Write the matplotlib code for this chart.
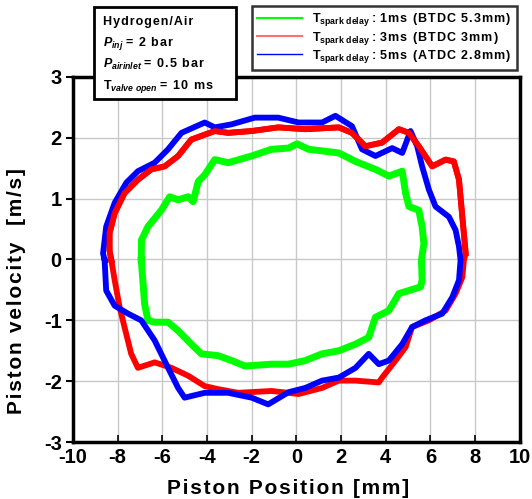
import matplotlib
matplotlib.use("Agg")
import matplotlib.pyplot as plt
from matplotlib.lines import Line2D
from matplotlib.patches import Rectangle

plt.rcParams["font.family"] = ["Liberation Sans", "DejaVu Sans"]
plt.rcParams["font.weight"] = "bold"
plt.rcParams["axes.unicode_minus"] = False
plt.rcParams["mathtext.fontset"] = "custom"
plt.rcParams["mathtext.rm"] = "Liberation Sans:bold"
plt.rcParams["mathtext.it"] = "Liberation Sans:italic:bold"
plt.rcParams["mathtext.bf"] = "Liberation Sans:bold"

# traced loops (piston position [mm], piston velocity [m/s])
green_x = [-6.94, -6.93, -6.64, -6.04, -5.67, -5.29, -4.84, -4.62, -4.39, -4.10, -3.65,
           -3.05, -2.00, -1.11, -0.35, 0.03, 0.55, 1.90, 2.65, 3.54, 4.14, 4.74, 4.89,
           5.04, 5.48, 5.63, 5.71, 5.60, 5.63, 5.56, 5.04, 4.59, 4.14, 3.54, 3.24, 2.65,
           1.90, 1.15, 0.40, -0.35, -1.11, -2.30, -2.90, -3.50, -4.25, -4.70, -5.29,
           -5.74, -6.34, -6.64, -6.79, -6.87, -6.94]
green_y = [-0.01, 0.32, 0.54, 0.81, 1.03, 0.98, 1.03, 0.95, 1.28, 1.39, 1.64,
           1.59, 1.70, 1.81, 1.83, 1.90, 1.81, 1.75, 1.61, 1.48, 1.37, 1.45, 1.09,
           0.87, 0.81, 0.54, 0.26, -0.01, -0.34, -0.45, -0.51, -0.56, -0.84, -0.95, -1.28, -1.39,
           -1.50, -1.55, -1.66, -1.72, -1.72, -1.75, -1.66, -1.58, -1.55, -1.39, -1.17,
           -1.03, -1.03, -1.00, -0.73, -0.34, -0.01]

red_x = [-8.28, -8.36, -8.36, -8.13, -7.69, -7.09, -6.49, -5.89, -5.29, -4.70, -4.10,
         -3.65, -3.05, -2.00, -0.81, 0.40, 1.90, 2.49, 3.09, 3.84, 4.59, 5.04, 5.48,
         6.08, 6.68, 7.05, 7.28, 7.43, 7.58, 7.50, 7.43, 7.13, 6.68, 5.93, 5.18, 4.89,
         4.44, 3.84, 3.69, 2.65, 1.90, 1.15, 0.10, -1.11, -2.60, -3.50, -4.10, -4.84,
         -5.59, -6.34, -7.09, -7.39, -7.69, -7.91, -8.13, -8.28]
red_y = [-0.01, 0.15, 0.43, 0.76, 1.09, 1.31, 1.48, 1.53, 1.70, 1.97, 2.05,
         2.11, 2.08, 2.11, 2.17, 2.14, 2.17, 2.08, 1.86, 1.92, 2.14, 2.08, 1.86,
         1.53, 1.64, 1.61, 1.31, 0.70, 0.10, -0.01, -0.29, -0.56, -0.84, -1.00, -1.11, -1.44,
         -1.66, -1.94, -2.02, -1.99, -1.99, -2.11, -2.21, -2.16, -2.19, -2.13, -2.08, -1.91,
         -1.78, -1.69, -1.78, -1.55, -1.11, -0.78, -0.34, -0.01]

blue_x = [-8.58, -8.65, -8.51, -8.13, -7.61, -7.09, -6.34, -5.74, -5.14, -4.10, -3.65,
          -2.90, -1.86, -0.81, 0.10, 1.15, 1.75, 2.49, 2.94, 3.54, 4.29, 4.74, 5.11,
          5.41, 5.63, 5.93, 6.23, 6.83, 7.13, 7.28, 7.35, 7.28, 6.98, 6.53, 5.78, 5.18,
          4.74, 4.14, 3.69, 3.24, 2.65, 1.90, 1.15, 0.40, -0.35, -1.26, -2.00, -3.05,
          -4.10, -5.00, -5.29, -5.74, -6.34, -6.94, -7.53, -8.13, -8.51, -8.58]
blue_y = [-0.01, 0.10, 0.54, 0.93, 1.26, 1.45, 1.59, 1.81, 2.08, 2.25, 2.17,
          2.22, 2.33, 2.33, 2.25, 2.25, 2.36, 2.19, 1.81, 1.70, 1.83, 1.75, 2.11,
          1.86, 1.53, 1.15, 0.87, 0.70, 0.48, 0.21, -0.01, -0.34, -0.62, -0.89, -1.00, -1.11,
          -1.39, -1.66, -1.72, -1.55, -1.78, -1.94, -1.99, -2.11, -2.18, -2.38, -2.27, -2.19,
          -2.19, -2.27, -2.11, -1.78, -1.33, -1.00, -0.89, -0.76, -0.51, -0.01]

HS = "\u200a"  # hair space, the original text is letter-spaced


def spaced(s):
    return HS.join(s)


legend_labels = [r"T$_{\mathregular{spark\ delay}}$ : " + spaced("1ms (BTDC 5.3mm)"),
                 r"T$_{\mathregular{spark\ delay}}$ : " + spaced("3ms (BTDC 3mm)"),
                 r"T$_{\mathregular{spark\ delay}}$ : " + spaced("5ms (ATDC 2.8mm)")]
info_lines = [spaced("Hydrogen/Air"),
              r"$\mathit{P_{inj}}$ " + spaced("= 2 bar"),
              r"$\mathit{P_{airinlet}}$ " + spaced("= 0.5 bar"),
              r"T$_{\mathit{valve\ open}}$ " + spaced("= 10 ms")]

fig = plt.figure(figsize=(5.32, 4.99), dpi=100)
ax = fig.add_axes([0.137, 0.114, 0.840, 0.732])

ax.plot(green_x, green_y, color="#00ff00", lw=5.0, solid_joinstyle="round")
ax.plot(red_x, red_y, color="#ff0000", lw=4.2, solid_joinstyle="round")
ax.plot(blue_x, blue_y, color="#0000ff", lw=4.2, solid_joinstyle="round")
# red again on top where it overlays the blue band
ax.plot(red_x[:29], red_y[:29], color="#ff0000", lw=4.2, solid_joinstyle="round")

ax.set_xlim(-10, 10)
ax.set_ylim(-3, 3)
ax.set_xticks(range(-10, 11, 2))
ax.set_yticks(range(-3, 4, 1))
ax.grid(True, color="#c8c8c8", lw=1)
ax.set_axisbelow(True)
for s in ax.spines.values():
    s.set_linewidth(2.5)
ax.tick_params(axis="x", direction="in", length=5, width=1.2, labelsize=14.5, pad=4)
ax.tick_params(axis="y", direction="out", length=5, width=1.5, labelsize=14.5, pad=3)
for lab in ax.get_xticklabels() + ax.get_yticklabels():
    lab.set_fontweight("bold")
ax.set_xlabel(spaced("Piston Position [mm]"), fontsize=15, fontweight="bold")
ax.set_ylabel(spaced("Piston velocity  [m/s]"), fontsize=15, fontweight="bold")
ax.xaxis.set_label_coords(0.481, -0.102, transform=ax.transAxes)
ax.yaxis.set_label_coords(-0.106, 0.414, transform=ax.transAxes)

handles = [Line2D([], [], color="#00ff00", lw=1.5),
           Line2D([], [], color="#ff7070", lw=1.5),
           Line2D([], [], color="#0000ff", lw=1.0)]
leg = fig.legend(handles, legend_labels, loc="upper left",
                 bbox_to_anchor=(251.7 / 532, 1 - 5.7 / 499),
                 prop={"size": 9, "weight": "bold"}, frameon=True, fancybox=False,
                 handlelength=3.6, handletextpad=0.8, labelspacing=0.1,
                 borderpad=0.45, borderaxespad=0)
leg.get_frame().set_edgecolor("black")
leg.get_frame().set_linewidth(1.8)

# info box overlapping the top of the axes
fig.patches.append(Rectangle((94 / 532, 1 - 99 / 499), 142 / 532, 92 / 499,
                             transform=fig.transFigure, facecolor="white",
                             edgecolor="black", lw=2, zorder=5))
for i, line in enumerate(info_lines):
    fig.text(103 / 532, 1 - (25 + 21.3 * i) / 499, line, fontsize=9,
             fontweight="bold", va="baseline", ha="left", zorder=6)

fig.savefig("out.png", dpi=100)
